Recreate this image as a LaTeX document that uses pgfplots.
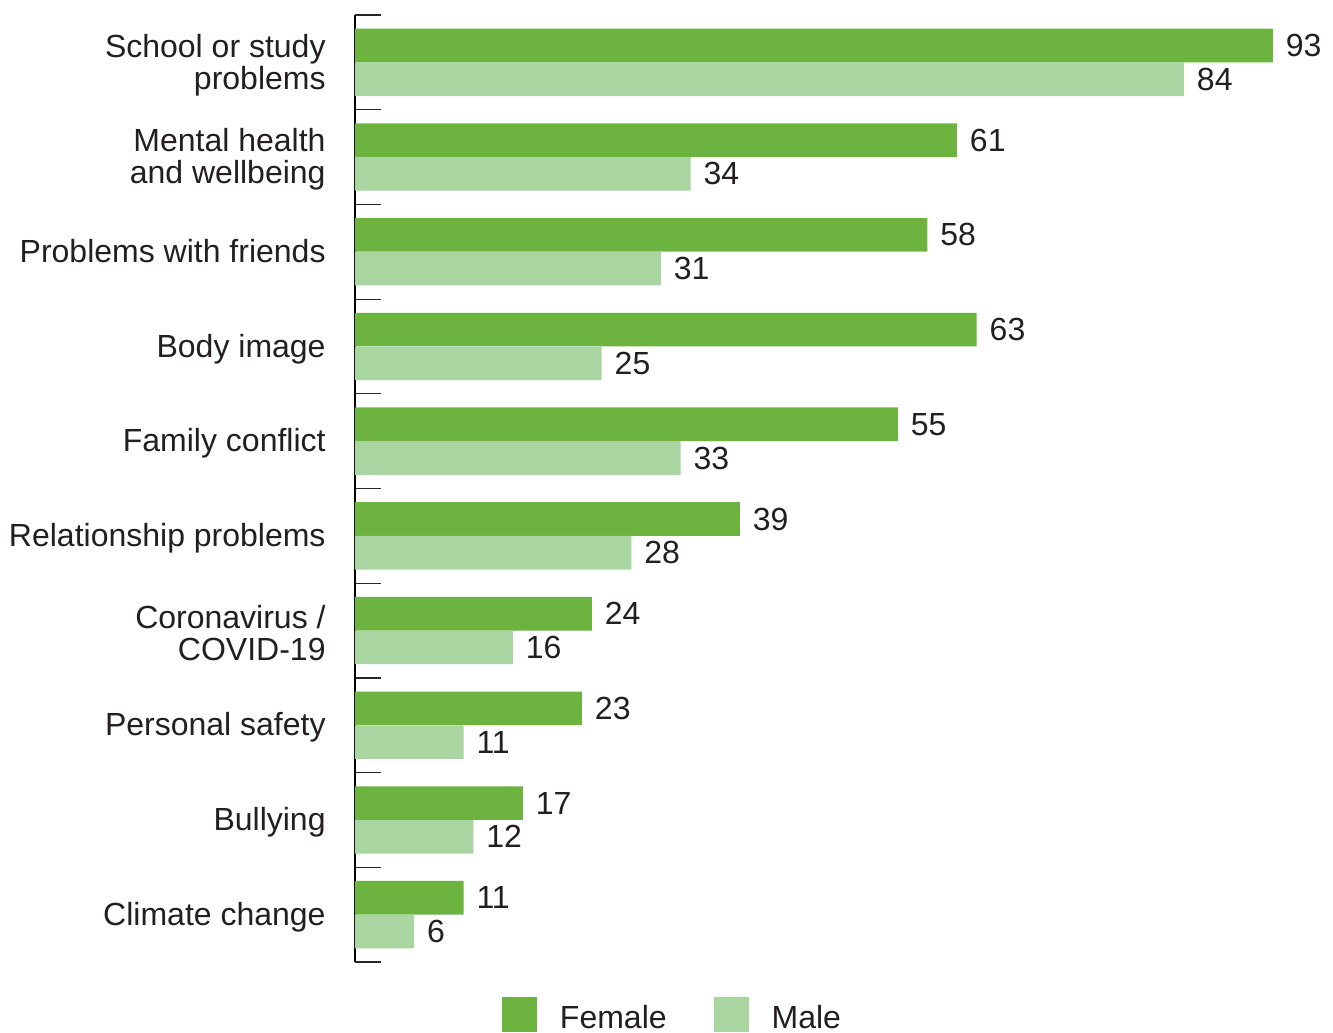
\documentclass[border=0pt]{standalone}
\usepackage{pgfplots}
\pgfplotsset{compat=1.18}
\usepackage{fontspec}
\setmainfont{Liberation Sans}
\definecolor{fem}{HTML}{6DB33F}
\definecolor{mal}{HTML}{A9D5A0}
\definecolor{txt}{HTML}{231F20}
\newcommand{\lf}{\fontsize{16}{16}\selectfont}
\begin{document}
\begin{tikzpicture}
\begin{axis}[
  scale only axis, width=489pt, height=473.5pt,
  xbar, point meta=x,
  /pgf/number format/assume math mode=true,
  xmin=0, xmax=99.1, ymin=-0.5, ymax=9.5, y dir=reverse,
  axis x line=none, axis y line*=left,
  ytick={0,...,9},
  yticklabels={{School or study\\problems},{Mental health\\and wellbeing},{Problems with friends\vphantom{p}},{Body image},{Family conflict},{Relationship problems},{Coronavirus /\\COVID-19},{Personal safety},{Bullying},{Climate change}},
  minor ytick={-0.5,0.5,...,9.5},
  major tick length=0pt, minor tick length=13pt, tick align=inside,
  minor tick style={black!85, line width=0.6pt},
  y axis line style={black, line width=0.6pt},
  yticklabel style={align=right, font=\lf, text=txt, inner sep=0pt, xshift=-14.5pt, yshift=-1.2pt},
  nodes near coords,
  nodes near coords style={font=\lf, text=txt, anchor=west, inner sep=0pt, xshift=6.3pt},
  bar width=0.355,
  legend image code/.code={\fill[#1] (0pt,-8.75pt) rectangle (17.5pt,8.75pt);},
  legend style={draw=none, fill=none, inner sep=0pt, outer sep=0pt, legend columns=2,
    at={(axis description cs:0.1503,0)}, anchor=north west, yshift=-17.5pt,
    font=\lf, text=txt, column sep=0pt,
    /tikz/every odd column/.style={column sep=11.5pt},
    /tikz/every even column/.style={column sep=23.5pt},
    nodes={inner sep=0pt, yshift=-1.8pt}},
]
\addplot[fill=fem, draw=none, bar shift=-0.178] coordinates {
  (93,0) (61,1) (58,2) (63,3) (55,4) (39,5) (24,6) (23,7) (17,8) (11,9)};
\addlegendentry{Female}
\addplot[fill=mal, draw=none, bar shift=0.178] coordinates {
  (84,0) (34,1) (31,2) (25,3) (33,4) (28,5) (16,6) (11,7) (12,8) (6,9)};
\addlegendentry{Male}
\end{axis}
\pgfresetboundingbox
\path (-177.5pt,-35.5pt) rectangle (489pt,481pt);
\end{tikzpicture}
\end{document}
